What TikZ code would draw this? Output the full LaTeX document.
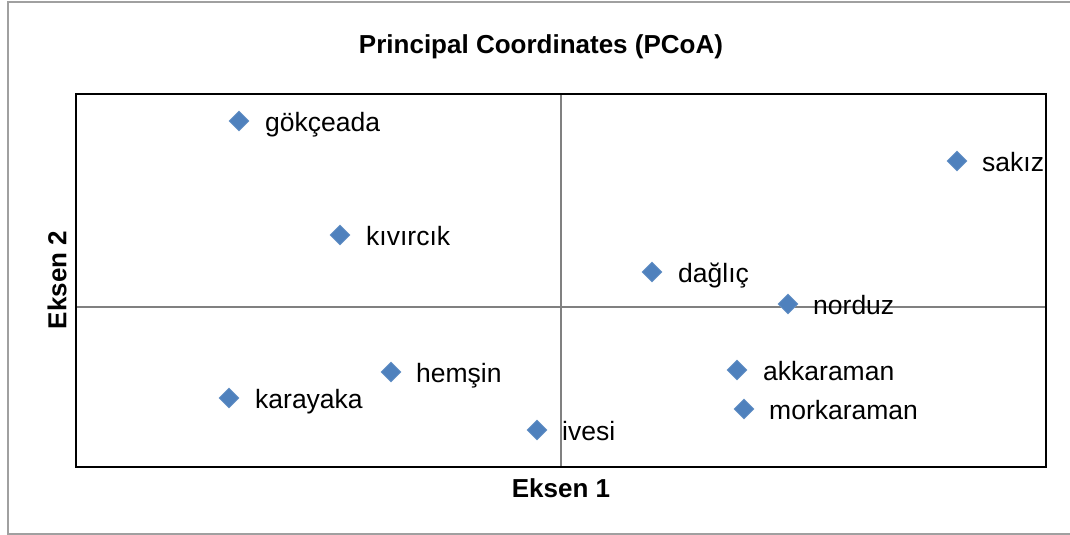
\documentclass[tikz,border=0pt]{standalone}
\usepackage{fontspec}
\setmainfont{Liberation Sans}
\usetikzlibrary{shapes.geometric,positioning}
\definecolor{markblue}{HTML}{4F81BD}
\definecolor{framegray}{HTML}{A0A0A0}

\begin{document}
\begin{tikzpicture}[x=1pt, y=-1pt,
    frame/.style={draw=framegray, line width=1.5pt},
    plot box/.style={draw=black, line width=2.6pt},
    zero line/.style={draw=gray, line width=1.6pt},
    pt/.style={diamond, fill=markblue, draw=markblue!85!white, line width=0.6pt,
      minimum size=20pt, inner sep=0pt},
    lbl/.style={anchor=base west, inner sep=0pt, font=\fontsize{26.5}{30}\selectfont},
    axis title/.style={font=\fontsize{26}{30}\selectfont\bfseries, inner sep=0pt}]
    \useasboundingbox (0,0) rectangle (1070,535);
    \clip (0,0) rectangle (1070,535);
    \draw[frame] (8,2) rectangle (1080,534);

    % plot area and zero lines
    \coordinate (tl) at (76,94);
    \coordinate (br) at (1046,467);
    \draw[zero line] (561,94) -- (561,467);
    \draw[zero line] (76,307) -- (1046,307);
    \draw[plot box] (tl) rectangle (br);

    % titles
    \node[axis title] (title) at (541,47) {Principal Coordinates (PCoA)};
    \node[axis title] (xtitle) at (561,488) {Eksen 1};
    \node[axis title, rotate=90] (ytitle) at (57,280) {Eksen 2};

    % points
    \node[pt] (gokceada) at (239,121) {};
    \node[pt] (sakiz) at (957,161) {};
    \node[pt] (kivircik) at (340,235) {};
    \node[pt] (daglic) at (652,272) {};
    \node[pt] (norduz) at (788,304) {};
    \node[pt] (hemsin) at (391,372) {};
    \node[pt] (akkaraman) at (737,370) {};
    \node[pt] (karayaka) at (229,398) {};
    \node[pt] (morkaraman) at (744,409) {};
    \node[pt] (ivesi) at (537,430) {};

    % labels
    \node[lbl] (gokceada-l) at ([xshift=26pt,yshift=-10.5pt]gokceada.center) {gökçeada};
    \node[lbl] (sakiz-l) at ([xshift=25pt,yshift=-10.5pt]sakiz.center) {sakız};
    \node[lbl] (kivircik-l) at ([xshift=26pt,yshift=-10.5pt]kivircik.center) {kıvırcık};
    \node[lbl] (daglic-l) at ([xshift=26pt,yshift=-10.5pt]daglic.center) {dağlıç};
    \node[lbl] (norduz-l) at ([xshift=25pt,yshift=-10.5pt]norduz.center) {norduz};
    \node[lbl] (hemsin-l) at ([xshift=25pt,yshift=-10.5pt]hemsin.center) {hemşin};
    \node[lbl] (akkaraman-l) at ([xshift=26pt,yshift=-10.5pt]akkaraman.center) {akkaraman};
    \node[lbl] (karayaka-l) at ([xshift=26pt,yshift=-10.5pt]karayaka.center) {karayaka};
    \node[lbl] (morkaraman-l) at ([xshift=25pt,yshift=-10.5pt]morkaraman.center) {morkaraman};
    \node[lbl] (ivesi-l) at ([xshift=25pt,yshift=-10.5pt]ivesi.center) {ivesi};
\end{tikzpicture}
\end{document}
